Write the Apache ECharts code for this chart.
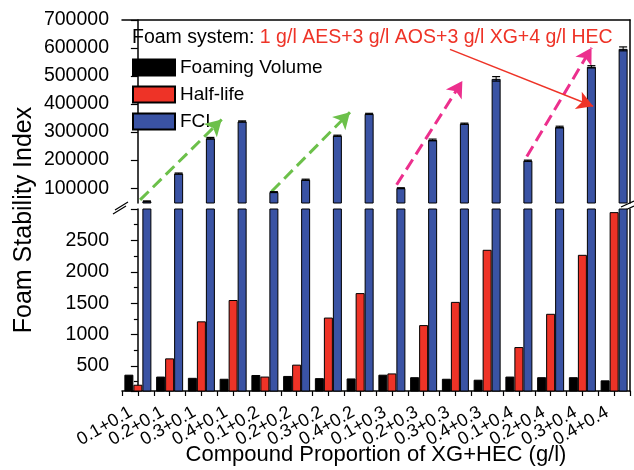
<!DOCTYPE html>
<html>
<head>
<meta charset="utf-8">
<script src="https://cdn.jsdelivr.net/npm/echarts@6/dist/echarts.min.js"></script>
<style>
  html, body { margin: 0; padding: 0; background: #fff; }
  #main { width: 634px; height: 470px; }
</style>
</head>
<body>
<div id="main"></div>
<script>
  // categories: XG + HEC compound proportion (g/l)
  var categories = ['0.1+0.1','0.2+0.1','0.3+0.1','0.4+0.1','0.1+0.2','0.2+0.2','0.3+0.2','0.4+0.2',
                    '0.1+0.3','0.2+0.3','0.3+0.3','0.4+0.3','0.1+0.4','0.2+0.4','0.3+0.4','0.4+0.4'];
  var foamVolume = [360, 330, 310, 295, 355, 340, 305, 300, 360, 320, 295, 280, 330, 320, 320, 270];
  var halfLife   = [200, 620, 1210, 1550, 330, 520, 1270, 1660, 380, 1150, 1520, 2350, 800, 1330, 2270, 2950];
  var fci        = [53000, 152000, 278000, 338000, 86000, 130000, 287000, 365000,
                    100000, 272000, 330000, 490000, 198000, 318000, 533000, 597000];
  var fciErr     = [1500, 2000, 3000, 2000, 1500, 2000, 2000, 2000, 1500, 3000, 2000, 8000, 2000, 3000, 4000, 7000];

  var FONT = 'Liberation Sans, Arial, sans-serif';
  var BLUE = '#3a53a4', RED = '#ee3327', PINK = '#ec2f8d', GREEN = '#6cc04a';

  var chart = echarts.init(document.getElementById('main'));
  var dash = function () { return '-'; };
  var plain = function (v) { return String(v); };

  // arrows drawn in the upper grid (x: category position, y: FCI value)
  var arrows = [
    { from: [0.07, 58000],  to: [2.64, 345000], color: GREEN, type: 'dashed' },
    { from: [4.21, 88000],  to: [6.68, 371000], color: GREEN, type: 'dashed' },
    { from: [8.15, 112000], to: [10.22, 482000], color: PINK, type: 'dashed' },
    { from: [12.25, 213000], to: [14.29, 601000], color: PINK, type: 'dashed' },
    { from: [9.83, 595000], to: [14.34, 392000], color: RED, type: 'solid' }
  ];

  function bar(name, data, color, xi, yi) {
    return {
      type: 'bar', barWidth: 9, barGap: '0%',
      name: name, data: data, xAxisIndex: xi, yAxisIndex: yi,
      itemStyle: { color: color, borderColor: '#000', borderWidth: 1 }
    };
  }

  var hiddenY = { type: 'value', position: 'right', axisLine: { show: true, lineStyle: { color: '#000', width: 1.5 } },
                  axisTick: { show: false }, axisLabel: { show: false }, splitLine: { show: false } };

  chart.setOption({
    animation: false,
    textStyle: { fontFamily: FONT },
    title: {
      left: 132, top: 28, padding: 0,
      text: '{a|Foam system: }{b|1 g/l AES+3 g/l AOS+3 g/l XG+4 g/l HEC}',
      textStyle: {
        rich: {
          a: { fontSize: 19.5, color: '#000', fontFamily: FONT, fontWeight: 'normal' },
          b: { fontSize: 19.5, color: RED, fontFamily: FONT, fontWeight: 'normal' }
        }
      }
    },
    legend: {
      orient: 'vertical', left: 132, top: 58, padding: 0,
      itemWidth: 42, itemHeight: 16, itemGap: 8,
      data: ['Foaming Volume', 'Half-life', 'FCI'],
      textStyle: { fontSize: 19, lineHeight: 16, color: '#000', fontFamily: FONT },
      icon: 'rect'
    },
    grid: [
      { left: 122, right: 4, top: 20, height: 183, outerBoundsMode: 'none' },
      { left: 122, right: 4, top: 209, bottom: 79, outerBoundsMode: 'none' }
    ],
    xAxis: [
      { type: 'category', gridIndex: 0, data: categories, position: 'top',
        axisLine: { lineStyle: { color: '#000', width: 1.5 } }, axisTick: { show: false }, axisLabel: { show: false } },
      { type: 'category', gridIndex: 1, data: categories, position: 'bottom',
        axisLine: { lineStyle: { color: '#000', width: 1.5 } }, axisTick: { show: false },
        axisLabel: { interval: 0, rotate: 30, fontSize: 18, color: '#000', margin: 16, padding: [0, 8, 0, 0] } },
      { type: 'value', gridIndex: 1, min: -0.5, max: 15.5, interval: 0.5, position: 'bottom',
        axisLine: { show: false }, axisLabel: { show: false }, splitLine: { show: false },
        axisTick: { show: true, length: 5, lineStyle: { color: '#000', width: 1.2 } } },
      { type: 'value', gridIndex: 0, min: -0.5, max: 15.5, show: false }
    ],
    yAxis: [
      { type: 'value', gridIndex: 0, min: 47000, max: 700000,
        axisLine: { show: true, lineStyle: { color: '#000', width: 1.5 } },
        axisTick: { show: true, length: 7, lineStyle: { color: '#000', width: 1.2 } },
        axisLabel: { fontSize: 19.5, color: '#000', margin: 13, showMinLabel: false, formatter: plain },
        splitLine: { show: false } },
      Object.assign({ gridIndex: 0, min: 47000, max: 700000 }, hiddenY),
      { type: 'value', gridIndex: 1, min: 100, max: 3000,
        axisLine: { show: true, lineStyle: { color: '#000', width: 1.5 } },
        axisTick: { show: true, length: 7, lineStyle: { color: '#000', width: 1.2 } },
        minorTick: { show: true, splitNumber: 2, length: 4, lineStyle: { color: '#000', width: 1.2 } },
        axisLabel: { fontSize: 19.5, color: '#000', margin: 13, showMinLabel: false, showMaxLabel: false, formatter: plain },
        splitLine: { show: false } },
      Object.assign({ gridIndex: 1, min: 100, max: 3000 }, hiddenY)
    ],
    graphic: [
      { type: 'text', x: 24, y: 220, rotation: Math.PI / 2,
        style: { text: 'Foam Stability Index', font: '25px ' + FONT, fill: '#000', align: 'center', verticalAlign: 'middle' } },
      { type: 'text', x: 376, y: 455,
        style: { text: 'Compound Proportion of XG+HEC (g/l)', font: '22px ' + FONT, fill: '#000', align: 'center', verticalAlign: 'middle' } },
      { type: 'line', shape: { x1: 115, y1: 210, x2: 128, y2: 202 }, style: { stroke: '#000', lineWidth: 1.3 } },
      { type: 'line', shape: { x1: 113, y1: 214, x2: 126, y2: 206 }, style: { stroke: '#000', lineWidth: 1.3 } },
      { type: 'line', shape: { x1: 621, y1: 207, x2: 634, y2: 201 }, style: { stroke: '#000', lineWidth: 1.3 } },
      { type: 'line', shape: { x1: 621, y1: 212, x2: 634, y2: 206 }, style: { stroke: '#000', lineWidth: 1.3 } }
    ],
    series: [
      bar('Foaming Volume', foamVolume.map(dash), '#000', 0, 0),
      bar('Half-life', halfLife.map(dash), RED, 0, 0),
      bar('FCI', fci, BLUE, 0, 0),
      bar('Foaming Volume', foamVolume, '#000', 1, 2),
      bar('Half-life', halfLife, RED, 1, 2),
      bar('FCI', fci, BLUE, 1, 2),
      {
        type: 'custom', xAxisIndex: 0, yAxisIndex: 0, z: 5, silent: true,
        data: fci.map(function (v, i) { return [i, v, fciErr[i]]; }),
        renderItem: function (params, api) {
          var i = api.value(0), v = api.value(1), e = api.value(2);
          var hi = api.coord([i, v + e]), lo = api.coord([i, v - e]);
          var x = hi[0] + 9;
          return { type: 'group', children: [
            { type: 'line', shape: { x1: x, y1: hi[1], x2: x, y2: lo[1] }, style: { stroke: '#000', lineWidth: 1 } },
            { type: 'line', shape: { x1: x - 4, y1: hi[1], x2: x + 4, y2: hi[1] }, style: { stroke: '#000', lineWidth: 1.2 } },
            { type: 'line', shape: { x1: x - 4, y1: lo[1], x2: x + 4, y2: lo[1] }, style: { stroke: '#000', lineWidth: 1.2 } }
          ] };
        }
      },
      {
        type: 'scatter', xAxisIndex: 3, yAxisIndex: 0, data: [], silent: true,
        markLine: {
          silent: true, animation: false,
          symbol: ['none', 'arrow'], symbolSize: [14, 16],
          label: { show: false },
          data: arrows.map(function (a) {
            return [
              { coord: a.from, lineStyle: { color: a.color, type: a.type, width: a.type === 'dashed' ? 3 : 1.5 },
                symbolSize: a.type === 'dashed' ? [14, 16] : [9, 12] },
              { coord: a.to }
            ];
          })
        }
      }
    ]
  });
</script>
</body>
</html>
